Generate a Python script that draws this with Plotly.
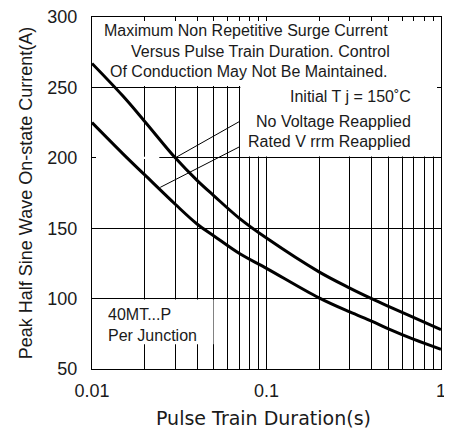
"""
Surge current vs pulse train duration (40MT...P)
"""
import plotly.graph_objects as go

# Datos
duration_s = [0.01, 0.015, 0.02, 0.03, 0.04, 0.05, 0.07, 0.1, 0.2, 0.3, 0.4, 0.5, 0.7, 1.0]
no_voltage = [267, 244, 226, 200, 184, 173, 157, 143, 119, 107.5, 100, 94.5, 86.5, 78]
rated_vrrm = [225, 203, 188, 167, 153, 144.5, 132, 121.5, 100.5, 90.5, 84, 78.5, 71, 64]

x_ticks = [0.01, 0.1, 1]
x_ticklabels = ['0.01', '0.1', '1']
x_minor = [0.02, 0.03, 0.04, 0.05, 0.06, 0.07, 0.08, 0.09,
           0.2, 0.3, 0.4, 0.5, 0.6, 0.7, 0.8, 0.9]
y_ticks = [50, 100, 150, 200, 250, 300]

# Líneas guía hacia las etiquetas (x0, y0, x1, y1)
leader_no_voltage = (0.03, 200, 0.0705, 226)
leader_rated = (0.0246, 179, 0.0705, 208)

FONT = 'Liberation Sans, Arial, sans-serif'
TXT = '#1a1a1a'

fig = go.Figure()

for y, name in [(no_voltage, 'No Voltage Reapplied'), (rated_vrrm, 'Rated V rrm Reapplied')]:
    fig.add_trace(go.Scatter(
        x=duration_s, y=y, mode='lines', name=name,
        line=dict(color='black', width=3, shape='spline', smoothing=1),
        showlegend=False
    ))

# Cajas blancas que tapan la rejilla detrás del texto (entre rejilla y curvas)
boxes = [
    dict(x0=0.0101, x1=0.995, y0=251, y1=299.6),
    dict(x0=0.0708, x1=0.995, y0=201, y1=251),
    dict(x0=0.0101, x1=0.0497, y0=67.5, y1=99.3),
    dict(x0=0.0101, x1=0.0243, y0=199.2, y1=200.8),
]
for b in boxes:
    fig.add_shape(type='rect', xref='x', yref='y',
                  x0=b['x0'], x1=b['x1'], y0=b['y0'], y1=b['y1'],
                  fillcolor='white', line=dict(width=0), layer='between')

for x0, y0, x1, y1 in [leader_no_voltage, leader_rated]:
    fig.add_shape(type='line', xref='x', yref='y', x0=x0, y0=y0, x1=x1, y1=y1,
                  line=dict(color='black', width=1), layer='above')

# Textos
texts = [
    ('Maximum Non Repetitive Surge Current', 0.44, 290.5),
    ('Versus Pulse Train Duration. Control', 0.482, 275.5),
    ('Of Conduction May Not Be Maintained.', 0.448, 261),
]
for t, xd, yv in texts:
    fig.add_annotation(text=t, xref='x domain', yref='y', x=xd, y=yv,
                       showarrow=False, font=dict(size=16, color=TXT, family=FONT))

right_texts = [
    ('Initial T j = 150˚C', 243.3),
    ('No Voltage Reapplied', 225.6),
    ('Rated V rrm Reapplied', 211.4),
]
for t, yv in right_texts:
    fig.add_annotation(text=t, xref='x domain', yref='y', x=0.92, y=yv,
                       xanchor='right', showarrow=False,
                       font=dict(size=16, color=TXT, family=FONT))

for t, yv in [('40MT...P', 88.6), ('Per Junction', 73.7)]:
    fig.add_annotation(text=t, xref='x domain', yref='y',
                       x=0.04, y=yv, xanchor='left', showarrow=False,
                       font=dict(size=16, color=TXT, family=FONT))

# Título del eje X como anotación para fijar su posición
fig.add_annotation(text='Pulse Train Duration(s)', xref='paper', yref='paper',
                   x=0.49, y=-0.139, yanchor='middle', showarrow=False,
                   font=dict(size=19, family='DejaVu Sans', color=TXT))

fig.update_xaxes(
    type='log', range=[-2, 0],
    tickvals=x_ticks, ticktext=x_ticklabels,
    showgrid=True, gridcolor='black', gridwidth=1,
    minor=dict(tickvals=x_minor, showgrid=True, gridcolor='black', gridwidth=1,
               ticks='inside', ticklen=4, tickcolor='black'),
    ticks='inside', ticklen=4, tickcolor='black',
    showline=True, linecolor='black', linewidth=1, mirror='ticks',
    zeroline=False, automargin=False, ticklabelstandoff=5,
    ticklabeloverflow='allow',
    tickfont=dict(size=18, family=FONT, color=TXT)
)
fig.update_yaxes(
    range=[50, 300], tickvals=y_ticks,
    showgrid=True, gridcolor='black', gridwidth=1,
    ticks='inside', ticklen=4, tickcolor='black',
    showline=True, linecolor='black', linewidth=1, mirror='ticks',
    zeroline=False, automargin=False, ticklabelstandoff=10,
    ticklabeloverflow='allow',
    title=dict(text='Peak Half Sine Wave On-state Current(A)',
               font=dict(size=18, family=FONT, color=TXT), standoff=10),
    tickfont=dict(size=18, family=FONT, color=TXT)
)

# la página añade 8 px de margen al cuerpo: se compensa aquí
fig.update_layout(
    width=444, height=424,
    margin=dict(l=84, r=11, t=9, b=63),
    plot_bgcolor='white', paper_bgcolor='white',
    font=dict(family=FONT)
)

fig.write_html("out.html")
